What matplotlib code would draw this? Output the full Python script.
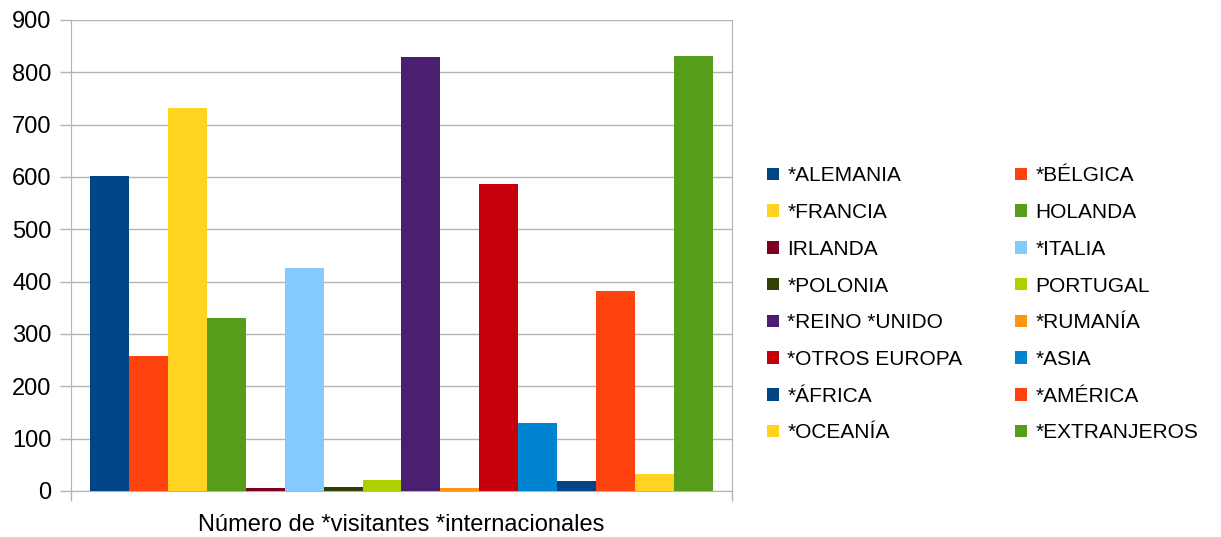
import matplotlib.pyplot as plt
from matplotlib.patches import Patch

plt.rcParams['font.family'] = ['Liberation Sans', 'DejaVu Sans']

countries = ['*ALEMANIA', '*BÉLGICA', '*FRANCIA', 'HOLANDA', 'IRLANDA', '*ITALIA',
             '*POLONIA', 'PORTUGAL', '*REINO *UNIDO', '*RUMANÍA', '*OTROS EUROPA',
             '*ASIA', '*ÁFRICA', '*AMÉRICA', '*OCEANÍA', '*EXTRANJEROS']
visitors = [602, 258, 731, 331, 6, 427, 8, 21, 830, 6, 587, 130, 19, 383, 33, 832]
colors = ['#004586', '#ff420e', '#ffd320', '#579d1c', '#7e0021', '#83caff',
          '#314004', '#aecf00', '#4b1f6f', '#ff950e', '#c5000b', '#0084d1',
          '#004586', '#ff420e', '#ffd320', '#579d1c']
category = 'Número de *visitantes *internacionales'

fig = plt.figure(figsize=(12.21, 5.37), dpi=100)
ax = fig.add_axes([0.0581, 0.0857, 0.5414, 0.8771])

n = len(visitors)
group = 0.943
w = group / n
for i, (v, c) in enumerate(zip(visitors, colors)):
    x = -group / 2 + w * (i + 0.5)
    ax.bar(x, v, width=w, color=c, zorder=3)

ax.set_xlim(-0.5, 0.5)
ax.set_ylim(0, 900)
ax.set_yticks(range(0, 901, 100))
ax.yaxis.grid(True, color='#b3b3b3', linewidth=1, zorder=0)
ax.set_xticks([-0.5, 0.5])
ax.set_xticklabels(['', ''])
ax.tick_params(axis='x', length=7, color='#b3b3b3', width=1)
ax.tick_params(axis='y', length=8, color='#b3b3b3', width=1, labelsize=17, pad=6)
for s in ['left', 'right', 'bottom']:
    ax.spines[s].set_color('#b3b3b3')
ax.spines['top'].set_visible(False)
ax.set_xlabel(category, fontsize=17, labelpad=6)

handles = [Patch(facecolor=c, label=l) for c, l in zip(colors, countries)]
order = list(range(0, n, 2)) + list(range(1, n, 2))
fig.legend([handles[i] for i in order], [countries[i] for i in order],
           ncol=2, loc='upper left', bbox_to_anchor=(0.620, 0.7095),
           frameon=False, fontsize=15, handlelength=0.55, handleheight=0.55,
           handletextpad=0.4, labelspacing=0.85, columnspacing=2.55, borderpad=0)

fig.savefig('out.png', dpi=100)
